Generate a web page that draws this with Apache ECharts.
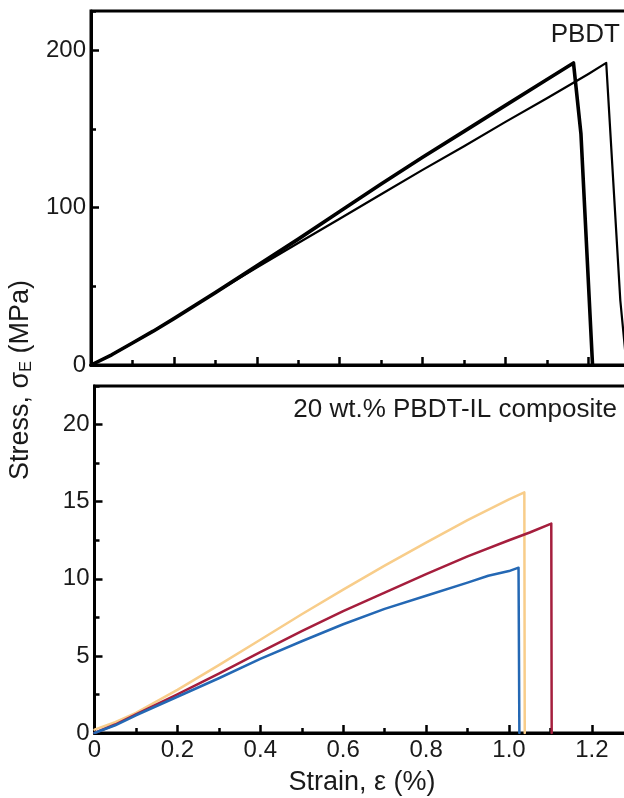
<!DOCTYPE html>
<html>
<head>
<meta charset="UTF-8">
<title>Stress-strain PBDT</title>
<script src="https://cdn.jsdelivr.net/npm/echarts@6/dist/echarts.min.js"></script>
<style>
  html, body { margin: 0; padding: 0; background: #fff; }
  #main { width: 624px; height: 798px; }
</style>
</head>
<body>
<div id="main"></div>
<script>
// top panel: neat PBDT (two runs)
var pbdtStrainA = [0, 0.05, 0.1, 0.15, 0.2, 0.3, 0.4, 0.5, 0.6, 0.7, 0.8, 0.9, 1.0, 1.1, 1.164, 1.182, 1.210];
var pbdtStressA = [0, 6.5, 14, 21.5, 29.5, 46, 63, 80, 97.5, 115, 132, 148.5, 165, 181.5, 192, 147, 0];
var pbdtStrainB = [0, 0.05, 0.1, 0.15, 0.2, 0.3, 0.4, 0.5, 0.6, 0.7, 0.8, 0.9, 1.0, 1.1, 1.2, 1.243, 1.277, 1.292];
var pbdtStressB = [0, 6.5, 14, 21.5, 29.5, 46, 62, 77.5, 93, 108.5, 124, 139, 154.5, 169.5, 185, 192, 41, 0];

// bottom panel: 20 wt.% PBDT-IL composite (three runs)
var ilStrainY = [0, 0.05, 0.1, 0.2, 0.3, 0.4, 0.5, 0.6, 0.7, 0.8, 0.9, 1.0, 1.037, 1.038];
var ilStressY = [0.22, 0.7, 1.3, 2.8, 4.4, 6.05, 7.7, 9.3, 10.85, 12.35, 13.8, 15.15, 15.6, 0];
var ilStrainR = [0, 0.05, 0.1, 0.2, 0.3, 0.4, 0.5, 0.6, 0.7, 0.8, 0.9, 1.0, 1.05, 1.102, 1.103];
var ilStressR = [0, 0.55, 1.2, 2.5, 3.85, 5.25, 6.6, 7.9, 9.1, 10.3, 11.45, 12.5, 13.0, 13.58, 0];
var ilStrainB = [0, 0.05, 0.1, 0.2, 0.3, 0.4, 0.5, 0.6, 0.7, 0.8, 0.9, 0.95, 1.0, 1.023, 1.025];
var ilStressB = [0, 0.5, 1.15, 2.35, 3.55, 4.8, 5.95, 7.05, 8.05, 8.9, 9.75, 10.2, 10.5, 10.72, 0];

var topYTicks = [0, 100, 200];
var botYTicks = [0, 5, 10, 15, 20];
var xTickLabels = ['0', '0.2', '0.4', '0.6', '0.8', '1.0', '1.2'];

function pairs(xs, ys) {
  var out = [];
  for (var i = 0; i < xs.length; i++) out.push([xs[i], ys[i]]);
  return out;
}

var FONT = 'Liberation Sans, Arial, sans-serif';
var INK = '#1a1a1a';

// px per strain unit
var sx = 414.5;

function xMajor(grid, showLabels) {
  return {
    type: 'value', gridIndex: grid, min: 0, max: 1.4, interval: 0.2, position: 'bottom',
    axisLine: { show: true, onZero: false, lineStyle: { color: '#000', width: 3 } },
    axisTick: { show: true, inside: true, length: 8, lineStyle: { color: '#000', width: 2.5 } },
    axisLabel: {
      show: showLabels, margin: 5, fontSize: 24, fontFamily: FONT, color: INK,
      formatter: function (v) {
        var k = Math.round(v / 0.2);
        return xTickLabels[k] !== undefined ? xTickLabels[k] : '';
      }
    },
    splitLine: { show: false }
  };
}
function xMinor(grid) {
  return {
    type: 'value', gridIndex: grid, min: 0, max: 1.4, interval: 0.1, position: 'bottom',
    axisLine: { show: false, onZero: false },
    axisTick: { show: true, inside: true, length: 5, lineStyle: { color: '#000', width: 2.5 } },
    axisLabel: { show: false },
    splitLine: { show: false }
  };
}
function yMajor(grid, max, interval, ticks) {
  return {
    type: 'value', gridIndex: grid, min: 0, max: max, interval: interval, position: 'left',
    axisLine: { show: true, onZero: false, lineStyle: { color: '#000', width: 3 } },
    axisTick: { show: true, inside: true, length: 8, lineStyle: { color: '#000', width: 2.5 } },
    axisLabel: {
      margin: 5, fontSize: 24, fontFamily: FONT, color: INK, showMaxLabel: false,
      formatter: function (v) { return ticks.indexOf(v) >= 0 ? String(v) : ''; }
    },
    splitLine: { show: false }
  };
}
function yMinor(grid, max, interval) {
  return {
    type: 'value', gridIndex: grid, min: 0, max: max, interval: interval, position: 'left',
    axisLine: { show: false, onZero: false },
    axisTick: { show: true, inside: true, length: 5, lineStyle: { color: '#000', width: 2.5 } },
    axisLabel: { show: false },
    splitLine: { show: false }
  };
}

function line(name, xi, yi, data, color, w) {
  return {
    name: name, type: 'line', xAxisIndex: xi, yAxisIndex: yi, data: data,
    showSymbol: false, symbol: 'none', smooth: false,
    lineStyle: { color: color, width: w, join: 'round', cap: 'round' }
  };
}

var chart = echarts.init(document.getElementById('main'), null, { renderer: 'canvas' });
chart.setOption({
  animation: false,
  backgroundColor: '#fff',
  grid: [
    { left: 91, top: 11, width: sx * 1.4, height: 354, show: true, borderColor: '#000', borderWidth: 3,
      containLabel: false, outerBoundsMode: 'none' },
    { left: 94.5, top: 386, width: sx * 1.4, height: 347, show: true, borderColor: '#000', borderWidth: 3,
      containLabel: false, outerBoundsMode: 'none' }
  ],
  xAxis: [xMajor(0, false), xMinor(0), xMajor(1, true), xMinor(1)],
  yAxis: [
    yMajor(0, 225, 100, topYTicks), yMinor(0, 225, 50),
    yMajor(1, 22.5, 5, botYTicks), yMinor(1, 22.5, 2.5)
  ],
  series: [
    line('PBDT run 2', 0, 0, pairs(pbdtStrainB, pbdtStressB), '#000', 2.2),
    line('PBDT run 1', 0, 0, pairs(pbdtStrainA, pbdtStressA), '#000', 3.6),
    line('IL run 1', 2, 2, pairs(ilStrainY, ilStressY), '#F8CD8A', 2.5),
    line('IL run 2', 2, 2, pairs(ilStrainR, ilStressR), '#A51E3D', 2.5),
    line('IL run 3', 2, 2, pairs(ilStrainB, ilStressB), '#2468B4', 2.5)
  ],
  graphic: [
    { type: 'text', right: 4, top: 22, style: { text: 'PBDT', fontSize: 26, fontFamily: FONT, fill: INK } },
    { type: 'text', right: 7, top: 397, style: { text: '20 wt.% PBDT-IL composite', fontSize: 26, fontFamily: FONT, fill: INK } },
    {
      type: 'text', x: 362, y: 783,
      style: { text: 'Strain, ε (%)', align: 'center', verticalAlign: 'middle', fontSize: 27, fontFamily: FONT, fill: INK }
    },
    {
      type: 'text', x: 21, y: 380, rotation: Math.PI / 2,
      style: {
        text: 'Stress, σ{sub|E} (MPa)', align: 'center', verticalAlign: 'middle',
        fontSize: 27, fontFamily: FONT, fill: INK,
        rich: { sub: { fontSize: 16, fontFamily: FONT, fill: INK, verticalAlign: 'bottom', padding: [8, 0, 0, 0] } }
      }
    }
  ]
});
</script>
</body>
</html>
